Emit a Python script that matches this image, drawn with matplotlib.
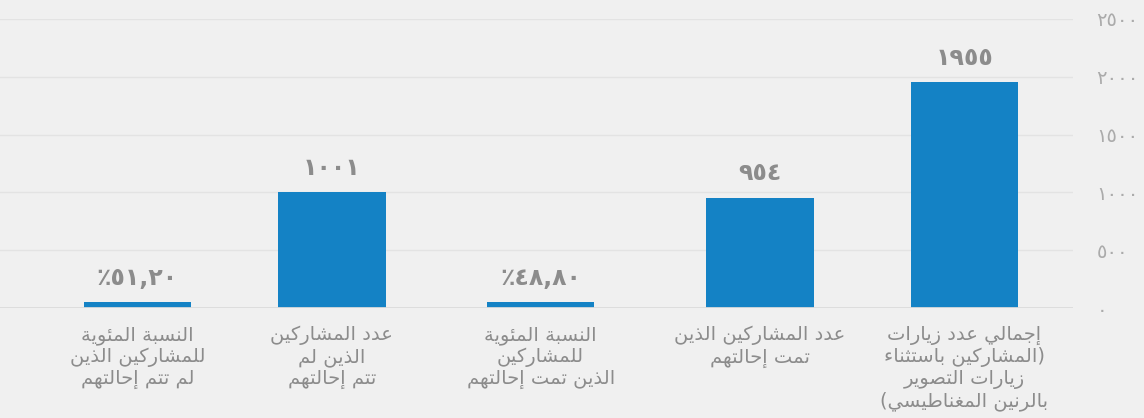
#!/usr/bin/env python3
"""
plot.py
Bar chart of participant visits / referrals with Arabic (RTL) labels.
matplotlib has no Arabic shaping, so letters are mapped to their
presentation forms and each line is reversed into visual order.
"""

import numpy as np
import matplotlib.pyplot as plt
from matplotlib.transforms import blended_transform_factory

# ---- data (logical order: first item is drawn on the right) ----
categories = [
    ["إجمالي عدد زيارات", "(المشاركين باستثناء", "زيارات التصوير", "بالرنين المغناطيسي)"],
    ["عدد المشاركين الذين", "تمت إحالتهم"],
    ["النسبة المئوية", "للمشاركين", "الذين تمت إحالتهم"],
    ["عدد المشاركين", "الذين لم", "تتم إحالتهم"],
    ["النسبة المئوية", "للمشاركين الذين", "لم تتم إحالتهم"],
]
values = [1955, 954, 48.80, 1001, 51.20]
is_percent = [False, False, True, False, True]
y_ticks = [0, 500, 1000, 1500, 2000, 2500]

BAR_COLOR = '#1482c5'
BG_COLOR = '#f0f0f0'
TEXT_COLOR = '#8c8c8c'
TICK_COLOR = '#ababab'

# slot positions of the bars as drawn in the source (right to left)
SLOTS = [0, 0.99, 2.05, 3.06, 4.0]

# ---- Arabic shaping helpers ----
# (letter, first presentation form, number of forms) -> iso, fin, ini, med
_AR = [('ء', 0xFE80, 1), ('آ', 0xFE81, 2), ('أ', 0xFE83, 2), ('ؤ', 0xFE85, 2),
       ('إ', 0xFE87, 2), ('ئ', 0xFE89, 4), ('ا', 0xFE8D, 2), ('ب', 0xFE8F, 4),
       ('ة', 0xFE93, 2), ('ت', 0xFE95, 4), ('ث', 0xFE99, 4), ('ج', 0xFE9D, 4),
       ('ح', 0xFEA1, 4), ('خ', 0xFEA5, 4), ('د', 0xFEA9, 2), ('ذ', 0xFEAB, 2),
       ('ر', 0xFEAD, 2), ('ز', 0xFEAF, 2), ('س', 0xFEB1, 4), ('ش', 0xFEB5, 4),
       ('ص', 0xFEB9, 4), ('ض', 0xFEBD, 4), ('ط', 0xFEC1, 4), ('ظ', 0xFEC5, 4),
       ('ع', 0xFEC9, 4), ('غ', 0xFECD, 4), ('ف', 0xFED1, 4), ('ق', 0xFED5, 4),
       ('ك', 0xFED9, 4), ('ل', 0xFEDD, 4), ('م', 0xFEE1, 4), ('ن', 0xFEE5, 4),
       ('ه', 0xFEE9, 4), ('و', 0xFEED, 2), ('ى', 0xFEEF, 2), ('ي', 0xFEF1, 4)]
FORMS = {ch: (base, n) for ch, base, n in _AR}
MIRROR = {'(': ')', ')': '('}


def shape_rtl(text):
    """Return a logical Arabic line in visual (left-to-right) order."""
    out = []
    for i, ch in enumerate(text):
        if ch not in FORMS:
            out.append(MIRROR.get(ch, ch))
            continue
        base, n = FORMS[ch]
        prev = text[i - 1] if i > 0 else ''
        nxt = text[i + 1] if i + 1 < len(text) else ''
        join_prev = n >= 2 and prev in FORMS and FORMS[prev][1] == 4
        join_next = n == 4 and nxt in FORMS and FORMS[nxt][1] >= 2
        if join_prev and join_next:
            idx = 3
        elif join_prev:
            idx = 1
        elif join_next:
            idx = 2
        else:
            idx = 0
        out.append(chr(base + min(idx, n - 1)))
    return ''.join(reversed(out))


def eastern(s):
    return s.translate(str.maketrans('0123456789', '٠١٢٣٤٥٦٧٨٩'))


def value_label(v, pct):
    if pct:
        return '٪' + eastern(f"{v:.2f}".replace('.', ','))
    return eastern(f"{v:.0f}")


def main():
    plt.rcParams['font.family'] = ['DejaVu Sans']

    fig = plt.figure(figsize=(11.44, 4.18), dpi=100, facecolor=BG_COLOR)
    ax = fig.add_axes([0.0, 110 / 418, 1073 / 1144, 289 / 418])
    ax.set_facecolor(BG_COLOR)

    x = np.array(SLOTS)
    ax.bar(x, values, width=0.52, color=BAR_COLOR, zorder=3)

    # right-to-left layout
    ax.set_xlim(4.665, -0.525)
    ax.set_ylim(0, 2500)

    ax.set_yticks(y_ticks)
    ax.set_yticklabels([eastern(str(t)) for t in y_ticks])
    ax.yaxis.tick_right()
    ax.tick_params(axis='y', length=0, pad=17, labelsize=14, labelcolor=TICK_COLOR)
    ax.set_xticks([])
    for sp in ax.spines.values():
        sp.set_visible(False)
    ax.grid(axis='y', color='#e3e3e3', linewidth=1, zorder=0)
    ax.axhline(0, color='#dcdcdc', linewidth=2, zorder=4)

    # value labels above bars
    for xi, v, pct in zip(x, values, is_percent):
        ax.annotate(value_label(v, pct), xy=(xi, v), xytext=(0, 9),
                    textcoords='offset points', ha='center', va='bottom',
                    fontsize=17, fontweight='bold', color=TEXT_COLOR)

    # category labels under the axis
    trans = blended_transform_factory(ax.transData, ax.transAxes)
    for xi, lines in zip(x, categories):
        txt = '\n'.join(shape_rtl(l) for l in lines)
        ax.annotate(txt, xy=(xi, 0), xycoords=trans, xytext=(0, -13),
                    textcoords='offset points', ha='center', va='top',
                    multialignment='center', fontsize=14, color=TEXT_COLOR,
                    linespacing=1.13, annotation_clip=False)

    fig.savefig('out.png', dpi=100, facecolor=BG_COLOR)


if __name__ == "__main__":
    main()
